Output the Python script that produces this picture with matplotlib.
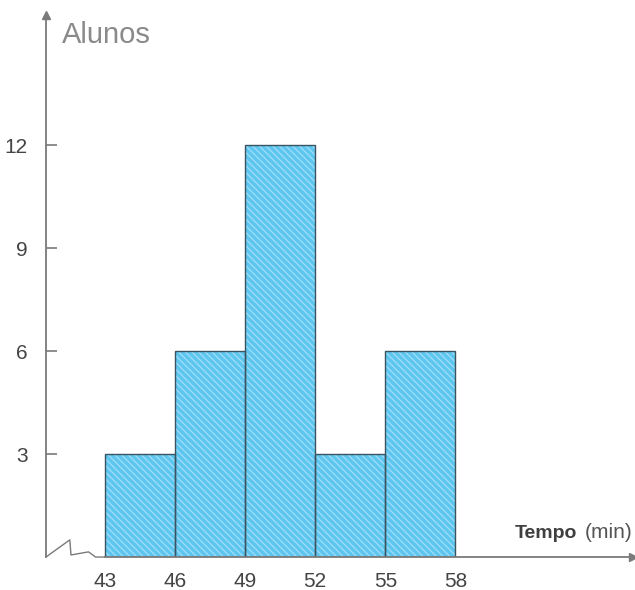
import matplotlib
matplotlib.use("Agg")
import matplotlib.pyplot as plt
import numpy as np

plt.rcParams['font.family'] = ['Liberation Sans', 'DejaVu Sans']

# Data
bin_edges = [43, 46, 49, 52, 55, 58]
counts = [3, 6, 12, 3, 6]
y_ticks = [3, 6, 9, 12]

W, H = 635, 590
fig = plt.figure(figsize=(W / 100, H / 100), dpi=100)
ax = fig.add_axes([0.0724, 0.0559, 0.9245, 0.9187])

xmin, xmax = 40.48, 65.6
ymin, ymax = 0, 15.8
ax.set_xlim(xmin, xmax)
ax.set_ylim(ymin, ymax)

lefts = np.array(bin_edges[:-1])
widths = np.diff(bin_edges)

fill = '#5cc6f0'
ax.bar(lefts, counts, width=widths, align='edge', color=fill, linewidth=0, zorder=2)
ax.bar(lefts, counts, width=widths, align='edge', facecolor='none',
       edgecolor='#9cdcf6', linewidth=0, hatch='\\\\\\\\\\', zorder=3)
ax.bar(lefts, counts, width=widths, align='edge', facecolor='none',
       edgecolor='#3a5360', linewidth=1.0, zorder=4)

axis_color = '#7a7a7a'
for s in ['top', 'right', 'bottom']:
    ax.spines[s].set_visible(False)
ax.spines['left'].set_color(axis_color)
ax.spines['left'].set_linewidth(1.3)

# x-axis line with break zigzag
ax.plot([bin_edges[0], xmax - 0.05], [0, 0], color=axis_color, lw=1.3,
        clip_on=False, zorder=5)
zx = [xmin, 41.5, 41.55, 42.3, 42.6, 43.0]
zy = [0, 0.5, 0.06, 0.15, 0, 0]
ax.plot(zx, zy, color=axis_color, lw=1.0, clip_on=False, zorder=5)

# arrows
ax.plot([xmax], [0], marker='>', color=axis_color, markersize=6, clip_on=False, zorder=6)
ax.plot([xmin], [ymax], marker='^', color=axis_color, markersize=6, clip_on=False, zorder=6)

ax.set_yticks(y_ticks)
ax.set_yticklabels([str(v) for v in y_ticks], fontsize=15, color='#444444')
ax.tick_params(axis='y', direction='in', length=8, color=axis_color, width=1.2, pad=13)

ax.set_xticks(bin_edges)
ax.set_xticklabels([str(v) for v in bin_edges], fontsize=15, color='#444444')
ax.tick_params(axis='x', length=0, pad=11)

def fx(px):
    return px / W

def fy(py):
    return 1 - py / H

fig.text(fx(62), fy(35), 'Alunos', fontsize=21, color='#8a8a8a',
         ha='left', va='center')

fig.text(fx(577), fy(533), 'Tempo', fontsize=14, fontweight='bold',
         color='#3f3f3f', ha='right', va='center')
fig.text(fx(633), fy(533), '(min)', fontsize=15, color='#555555',
         ha='right', va='center')

fig.savefig('out.png', dpi=100)
